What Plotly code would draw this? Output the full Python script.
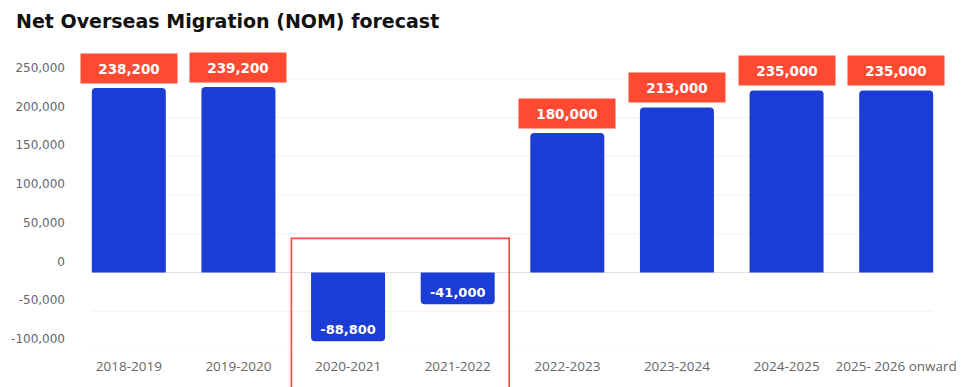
import plotly.graph_objects as go

categories = ["2018-2019", "2019-2020", "2020-2021", "2021-2022",
              "2022-2023", "2023-2024", "2024-2025", "2025- 2026 onward"]
nom_values = [238200, 239200, -88800, -41000, 180000, 213000, 235000, 235000]
y_tick_values = [250000, 200000, 150000, 100000, 50000, 0, -50000, -100000]
y_tick_labels = ["250,000", "200,000", "150,000", "100,000", "50,000", "0", "-50,000", "-100,000"]

BLUE = "#1b3dd6"
RED = "#ff4a33"
BARGAP = 0.325
Y_RANGE = [-100000, 300000]
W, H = 977, 387

inside_text = [f"{v:,}" if v < 0 else "" for v in nom_values]

fig = go.Figure()
fig.add_trace(go.Bar(
    x=categories, y=nom_values,
    marker=dict(color=BLUE, cornerradius=4, line=dict(width=0)),
    text=inside_text, textposition="inside", insidetextanchor="end",
    textfont=dict(family="DejaVu Sans", size=13, color="white", weight="bold"),
    hoverinfo="skip",
))

# faint gridlines spanning first bar's left edge to last bar's right edge
half = (1 - BARGAP) / 2
for tv in y_tick_values:
    fig.add_shape(type="line", xref="x", yref="y",
                  x0=-half, x1=len(categories) - 1 + half, y0=tv, y1=tv,
                  line=dict(color="#e2e2e2" if tv == 0 else "#f2f2f2", width=1),
                  layer="below")

# red value boxes above positive bars
for c, v in zip(categories, nom_values):
    if v > 0:
        fig.add_annotation(x=c, y=v, xref="x", yref="y", yanchor="bottom",
                           yshift=4, showarrow=False, text=f"{v:,}",
                           bgcolor=RED, width=96, height=29, borderpad=0,
                           font=dict(family="DejaVu Sans", size=13.5, color="white", weight="bold"))

# red highlight rectangle around the two negative years
n = len(categories)
neg_idx = [i for i, v in enumerate(nom_values) if v < 0]
x0_paper = (neg_idx[0] - 0.517 + 0.5) / n
x1_paper = (neg_idx[-1] + 0.47 + 0.5) / n
top_paper = (44000 - Y_RANGE[0]) / (Y_RANGE[1] - Y_RANGE[0])
fig.add_shape(type="rect", xref="paper", yref="paper",
              x0=x0_paper, x1=x1_paper, y0=-0.5, y1=top_paper,
              line=dict(color="#f44a3a", width=1.6), fillcolor="rgba(0,0,0,0)")

fig.update_layout(
    width=W, height=H,
    margin=dict(l=66, r=34, t=32, b=45),
    paper_bgcolor="white", plot_bgcolor="white",
    bargap=BARGAP, showlegend=False,
    title=dict(text="<b>Net Overseas Migration (NOM) forecast</b>",
               x=8 / W, xanchor="left", y=1 - 13 / H, yanchor="middle",
               font=dict(family="DejaVu Sans", size=19, color="#111111")),
    xaxis=dict(showgrid=False, showline=False, ticks="", automargin=False,
               ticklabelstandoff=6,
               tickfont=dict(family="Open Sans", size=13.5, color="#666666")),
    yaxis=dict(range=Y_RANGE, tickvals=y_tick_values, ticktext=y_tick_labels,
               showgrid=False, zeroline=False, showline=False, ticks="",
               automargin=False, ticklabelshift=-11, ticklabelstandoff=8,
               tickfont=dict(family="DejaVu Sans", size=12, color="#666666")),
)

fig.write_html("out.html")
